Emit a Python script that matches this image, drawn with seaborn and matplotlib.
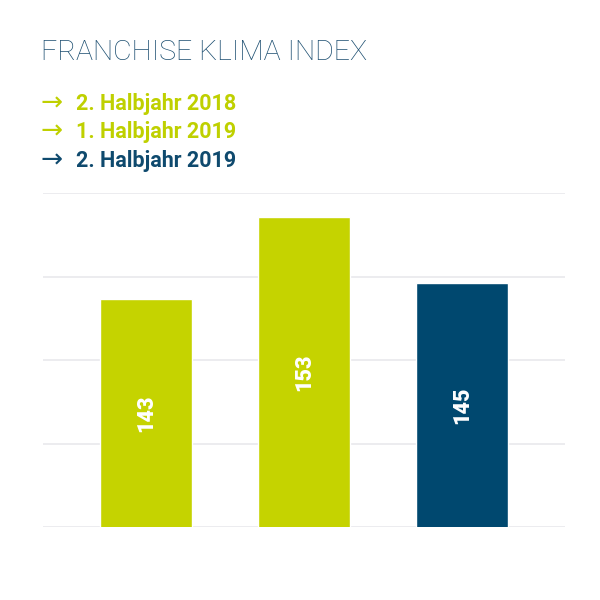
import matplotlib

matplotlib.use("Agg")
import matplotlib.pyplot as plt
import numpy as np
import pandas as pd
import seaborn as sns

# chart data
periods = ["2. Halbjahr 2018", "1. Halbjahr 2019", "2. Halbjahr 2019"]
index_values = [143, 153, 145]
bar_colors = ["#c5d300", "#c5d300", "#00486f"]
title_text = "FRANCHISE KLIMA INDEX"

# value axis window (bars do not start at zero)
y_min, y_max = 115, 156

df = pd.DataFrame({"period": periods, "value": index_values})

sns.set_theme(style="white")
plt.rcParams["font.family"] = ["Roboto", "DejaVu Sans"]

fig = plt.figure(figsize=(6, 6), dpi=100)
ax = fig.add_axes([43 / 600, 1 - 527 / 600, 522 / 600, 334 / 600])

sns.barplot(
    data=df,
    x="period",
    y="value",
    hue="period",
    palette=bar_colors,
    width=0.585,
    legend=False,
    saturation=1,
    ax=ax,
)

ax.set_ylim(y_min, y_max)
ax.set_xlim(-0.652, len(periods) - 1 + 0.652)
ax.set_yticks(np.linspace(y_min, y_max, 5))
ax.yaxis.grid(True, color="#e9e9ec", linewidth=1.2)
ax.set_axisbelow(True)
ax.set_xticks([])
ax.set_yticklabels([])
ax.tick_params(left=False, bottom=False)
ax.set_xlabel("")
ax.set_ylabel("")
for spine in ax.spines.values():
    spine.set_visible(False)

# rotated value labels in the middle of each bar
for patch, val in zip(ax.patches, index_values):
    cx = patch.get_x() + patch.get_width() / 2
    cy = y_min + (patch.get_height() - y_min) / 2
    ax.text(cx, cy, str(val), rotation=90, ha="center", va="center",
            color="white", fontsize=15.5, fontweight="heavy")

# title and legend-like list
fig.text(41 / 600, 1 - 53 / 600, title_text, fontsize=20.5, fontweight="light",
         color="#1d4f71", va="center", ha="left")
legend_y = [104, 132, 161]
legend_colors = ["#bfd000", "#bfd000", "#0f4a6e"]
for label, y, col in zip(periods, legend_y, legend_colors):
    fig.text(40 / 600, 1 - y / 600, "→", fontsize=19, color=col, va="center", ha="left",
             family=["DejaVu Sans"])
    fig.text(76 / 600, 1 - y / 600, label, fontsize=15.5, fontweight="bold", color=col,
             va="center", ha="left")

fig.savefig("out.png", dpi=100, facecolor="white")
